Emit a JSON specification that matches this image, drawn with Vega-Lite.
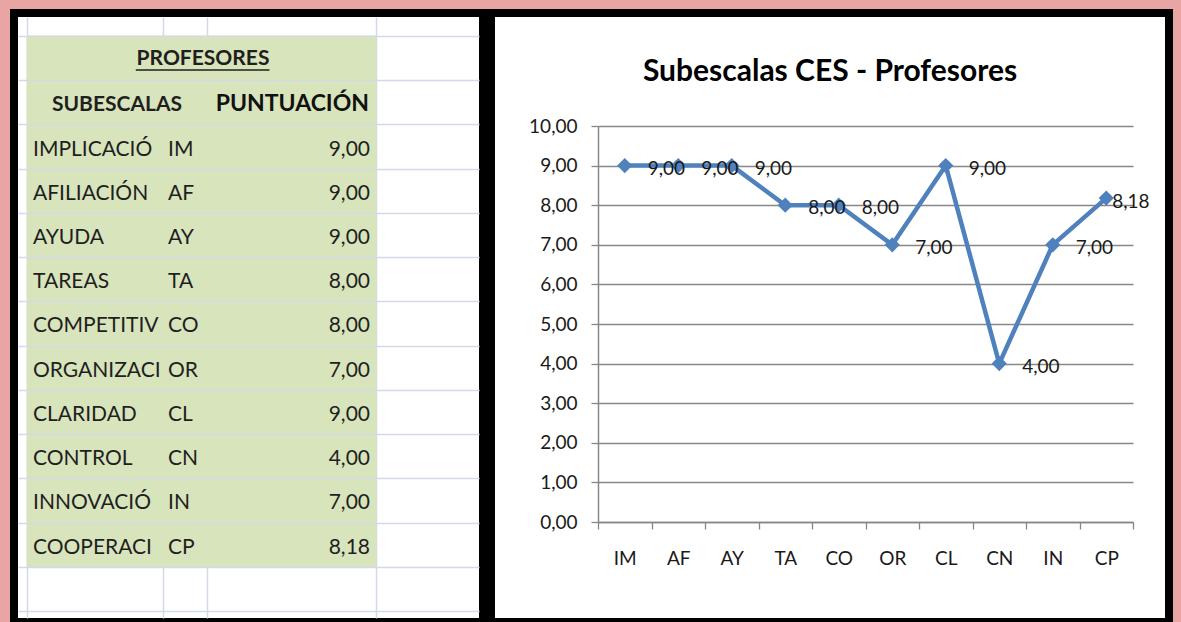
{
  "$schema": "https://vega.github.io/schema/vega-lite/v6.json",
  "background": "#e9a4a4",
  "padding": {"left": 10, "top": 9, "right": 8, "bottom": 0},
  "spacing": 0,
  "config": {
    "locale": {"number": {"decimal": ",", "thousands": ".", "grouping": [3], "currency": ["", " €"]}},
    "font": "Lato",
    "view": {"stroke": "black", "strokeWidth": 8, "fill": "white"}
  },
  "data": {"values": [
    {"n": 1, "subescala": "IMPLICACIÓN", "codigo": "IM", "puntuacion": 9.00},
    {"n": 2, "subescala": "AFILIACIÓN", "codigo": "AF", "puntuacion": 9.00},
    {"n": 3, "subescala": "AYUDA", "codigo": "AY", "puntuacion": 9.00},
    {"n": 4, "subescala": "TAREAS", "codigo": "TA", "puntuacion": 8.00},
    {"n": 5, "subescala": "COMPETITIVIDAD", "codigo": "CO", "puntuacion": 8.00},
    {"n": 6, "subescala": "ORGANIZACIÓN", "codigo": "OR", "puntuacion": 7.00},
    {"n": 7, "subescala": "CLARIDAD", "codigo": "CL", "puntuacion": 9.00},
    {"n": 8, "subescala": "CONTROL", "codigo": "CN", "puntuacion": 4.00},
    {"n": 9, "subescala": "INNOVACIÓN", "codigo": "IN", "puntuacion": 7.00},
    {"n": 10, "subescala": "COOPERACIÓN", "codigo": "CP", "puntuacion": 8.18}
  ]},
  "hconcat": [
    {
      "width": 469,
      "height": 609,
      "layer": [
        {
          "mark": {"type": "rect", "fill": "#d8e4bc", "stroke": "#d8e4bc", "strokeWidth": 1},
          "encoding": {
            "x": {"datum": 0, "type": "quantitative",
                  "scale": {"type": "linear", "domain": [-1, 0, 1, 2, 3, 4], "range": [4, 13, 149, 193, 362, 465], "nice": false, "zero": false},
                  "axis": {"values": [0, 1, 2, 3], "grid": true, "gridColor": "#d3dae7", "gridWidth": 1.5, "labels": false, "ticks": false, "domain": false, "title": null}},
            "x2": {"datum": 3},
            "y": {"field": "codigo", "type": "nominal",
                  "scale": {"type": "band", "domain": ["t", "h", "IM", "AF", "AY", "TA", "CO", "OR", "CL", "CN", "IN", "CP", "b1"], "range": [4, 605], "paddingInner": 0, "paddingOuter": 0.294, "align": 0.73},
                  "axis": {"grid": true, "tickBand": "extent", "gridColor": "#d3dae7", "gridWidth": 1.5, "labels": false, "ticks": false, "domain": false, "title": null}}
          }
        },
        {
          "data": {"values": [{"fila": "t"}, {"fila": "h"}]},
          "mark": {"type": "rect", "fill": "#d8e4bc", "stroke": "#d8e4bc", "strokeWidth": 1},
          "encoding": {
            "x": {"datum": 0, "type": "quantitative"},
            "x2": {"datum": 3},
            "y": {"field": "fila", "type": "nominal"}
          }
        },
        {
          "mark": {"type": "text", "align": "left", "baseline": "middle", "dx": 6, "dy": 3, "fontSize": 21, "fill": "#1f1f1f", "limit": 129, "ellipsis": "\u200b"},
          "encoding": {
            "x": {"datum": 0, "type": "quantitative"},
            "y": {"field": "codigo", "type": "nominal"},
            "text": {"field": "subescala"}
          }
        },
        {
          "mark": {"type": "text", "align": "left", "baseline": "middle", "dx": 5, "dy": 3, "fontSize": 21, "fill": "#1f1f1f"},
          "encoding": {
            "x": {"datum": 1, "type": "quantitative"},
            "y": {"field": "codigo", "type": "nominal"},
            "text": {"field": "codigo"}
          }
        },
        {
          "mark": {"type": "text", "align": "right", "baseline": "middle", "dx": -6, "dy": 3, "fontSize": 21, "fill": "#1f1f1f"},
          "encoding": {
            "x": {"datum": 3, "type": "quantitative"},
            "y": {"field": "codigo", "type": "nominal"},
            "text": {"field": "puntuacion", "type": "quantitative", "format": ".2f"}
          }
        },
        {
          "data": {"values": [{}]},
          "mark": {"type": "text", "text": "PROFESORES", "align": "center", "baseline": "middle", "dx": -4, "dy": 1, "fontSize": 21, "fontWeight": "bold", "fill": "#1f1f1f"},
          "encoding": {
            "x": {"datum": 2, "type": "quantitative"},
            "y": {"datum": "t", "type": "nominal"}
          }
        },
        {
          "data": {"values": [{}]},
          "mark": {"type": "rule", "stroke": "#1f1f1f", "strokeWidth": 1.6},
          "encoding": {
            "x": {"datum": 0.8, "type": "quantitative"},
            "x2": {"datum": 2.37},
            "y": {"datum": "t", "type": "nominal", "bandPosition": 0.77}
          }
        },
        {
          "data": {"values": [{}]},
          "mark": {"type": "text", "text": "SUBESCALAS", "align": "left", "baseline": "middle", "dx": 25, "dy": 3, "fontSize": 21, "fontWeight": "bold", "fill": "#1f1f1f"},
          "encoding": {
            "x": {"datum": 0, "type": "quantitative"},
            "y": {"datum": "h", "type": "nominal"}
          }
        },
        {
          "data": {"values": [{}]},
          "mark": {"type": "text", "text": "PUNTUACIÓN", "align": "right", "baseline": "middle", "dx": -7, "dy": 2, "fontSize": 23, "fontWeight": "bold", "fill": "#111111"},
          "encoding": {
            "x": {"datum": 3, "type": "quantitative"},
            "y": {"datum": "h", "type": "nominal"}
          }
        }
      ]
    },
    {
      "width": 678,
      "height": 609,
      "title": {"text": "Subescalas CES - Profesores", "anchor": "middle", "frame": "group", "offset": -74, "fontSize": 30, "fontWeight": "bold", "font": "Lato", "color": "#000000"},
      "encoding": {
        "x": {"field": "codigo", "type": "nominal", "sort": null,
              "scale": {"type": "band", "domain": ["IM", "AF", "AY", "TA", "CO", "OR", "CL", "CN", "IN", "CP"], "range": [107, 642], "paddingInner": 0, "paddingOuter": 0},
              "axis": {"tickBand": "extent", "grid": false, "domainColor": "#878787", "domainWidth": 1.5, "tickColor": "#878787", "tickSize": 7, "tickWidth": 1.3, "labelFontSize": 19, "labelColor": "#1a1a1a", "labelPadding": 20, "labelAngle": 0, "title": null, "offset": -100}},
        "y": {"field": "puntuacion", "type": "quantitative",
              "scale": {"domain": [0, 10], "range": [509, 113], "nice": false, "zero": false},
              "axis": {"values": [0, 1, 2, 3, 4, 5, 6, 7, 8, 9, 10], "format": ".2f", "grid": true, "gridColor": "#878787", "gridWidth": 1.3, "domainColor": "#878787", "domainWidth": 1.5, "tickColor": "#878787", "tickSize": 7, "tickWidth": 1.3, "labelFontSize": 19, "labelColor": "#1a1a1a", "labelPadding": 14, "title": null, "offset": -107}}
      },
      "layer": [
        {"mark": {"type": "line", "stroke": "#4f81bd", "strokeWidth": 4.5}, "encoding": {"order": {"field": "n", "type": "quantitative"}}},
        {"mark": {"type": "point", "shape": "diamond", "filled": true, "size": 230, "fill": "#4f81bd", "opacity": 1}},
        {
          "transform": [{"filter": "datum.codigo != 'CP'"}],
          "mark": {"type": "text", "align": "left", "baseline": "middle", "dx": 23, "dy": 3, "fontSize": 19, "fill": "#1a1a1a"},
          "encoding": {"text": {"field": "puntuacion", "type": "quantitative", "format": ".2f"}}
        },
        {
          "transform": [{"filter": "datum.codigo == 'CP'"}],
          "mark": {"type": "text", "align": "left", "baseline": "middle", "dx": 6, "dy": 4, "fontSize": 19, "fill": "#1a1a1a"},
          "encoding": {"text": {"field": "puntuacion", "type": "quantitative", "format": ".2f"}}
        }
      ]
    }
  ]
}
